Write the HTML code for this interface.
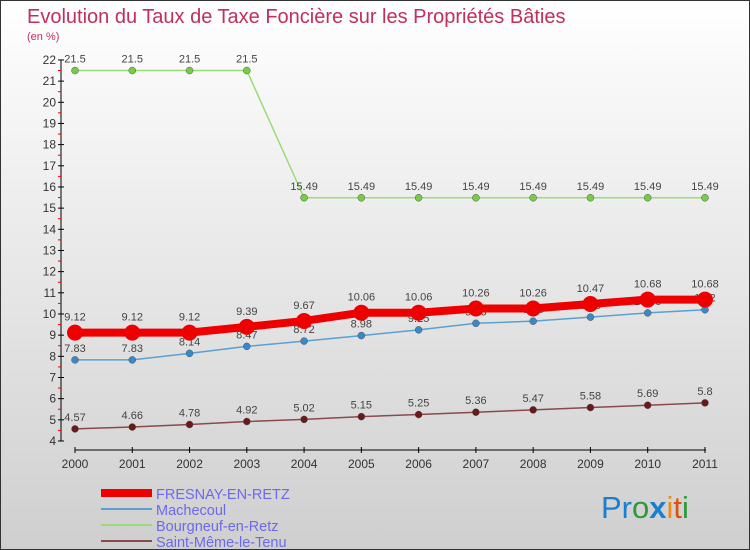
<!DOCTYPE html>
<html><head><meta charset="utf-8"><style>
html,body{margin:0;padding:0}
body{width:750px;height:550px;overflow:hidden;font-family:"Liberation Sans",sans-serif}
#wrap{position:relative;width:748px;height:548px;border:1px solid #333;background:linear-gradient(#ffffff,#cfcfcf)}
</style></head><body>
<div id="wrap">
<svg id="chart" width="748" height="548" style="position:absolute;left:0;top:0">
<text x="26" y="22" font-size="20" fill="#c0305a">Evolution du Taux de Taxe Foncière sur les Propriétés Bâties</text>
<text x="26" y="39" font-size="11" fill="#c0305a">(en %)</text>
<g id="axes"></g><g id="series"></g><g id="legend"></g>
<text x="600" y="517" font-size="31" font-family="Liberation Sans, sans-serif"><tspan fill="#1a7fd0">Pr</tspan><tspan fill="#2a9a3a">o</tspan><tspan fill="#1a7fd0" font-weight="bold">x</tspan><tspan fill="#f08a10">i</tspan><tspan fill="#e05010">t</tspan><tspan fill="#2a9a3a">i</tspan></text>
</svg>
</div>
<script>
const years=[2000,2001,2002,2003,2004,2005,2006,2007,2008,2009,2010,2011];
const fresnay=[9.12,9.12,9.12,9.39,9.67,10.06,10.06,10.26,10.26,10.47,10.68,10.68];
const machecoul=[7.83,7.83,8.14,8.47,8.72,8.98,9.25,9.56,9.66,9.85,10.05,10.2];
const bourgneuf=[21.5,21.5,21.5,21.5,15.49,15.49,15.49,15.49,15.49,15.49,15.49,15.49];
const saintMeme=[4.57,4.66,4.78,4.92,5.02,5.15,5.25,5.36,5.47,5.58,5.69,5.8];
const yTicks=[4,5,6,7,8,9,10,11,12,13,14,15,16,17,18,19,20,21,22];
const seriesNames=["FRESNAY-EN-RETZ","Machecoul","Bourgneuf-en-Retz","Saint-Même-le-Tenu"];
const NS="http://www.w3.org/2000/svg";
const X=i=>74+i*57.27, Y=v=>440-(v-4)*21.17;
function mk(tag,attrs,parent){const e=document.createElementNS(NS,tag);for(const k in attrs)e.setAttribute(k,attrs[k]);parent.appendChild(e);return e;}
const axes=document.getElementById('axes');
let e=mk('line',{x1:60,y1:Y(22),x2:60,y2:Y(4),stroke:'#000'},axes);


e=mk('line',{x1:X(0),y1:449,x2:X(11)+1,y2:449,stroke:'#000'},axes);


yTicks.forEach(v=>{
  mk('line',{x1:57,y1:Y(v),x2:63,y2:Y(v),stroke:'#000'},axes);
  if(v<22)mk('line',{x1:57,y1:Y(v+0.5),x2:60,y2:Y(v+0.5),stroke:'#e00'},axes);
  const t=mk('text',{x:55,y:Y(v)+4,'font-size':12,fill:'#333','text-anchor':'end'},axes);
  t.textContent=v;
  
  
});
years.forEach((yr,i)=>{
  mk('line',{x1:X(i),y1:446,x2:X(i),y2:452,stroke:'#000'},axes);
  const t=mk('text',{x:X(i),y:467,'font-size':12,fill:'#333','text-anchor':'middle'},axes);
  t.textContent=yr;
  
  
});
const ser=document.getElementById('series');
const cfg=[[bourgneuf,'#99dd77','#77cc44',1.5,3.5,'bourgneuf'],[saintMeme,'#8a4a4a','#6a1818',1.5,3.5,'saint-meme'],[machecoul,'#5aa0d0','#3a88c8',1.5,3.5,'machecoul'],[fresnay,'#ee0000','#ee0000',8,8,'fresnay']];
cfg.forEach(([d,lc,pc,w,r,n])=>{
  const g=mk('g',{},ser);
  
  
  const l=mk('polyline',{points:d.map((v,i)=>X(i)+','+Y(v)).join(' '),fill:'none',stroke:lc,'stroke-width':w},g);
  
  
  d.forEach((v,i)=>{
    const c=mk('circle',{cx:X(i),cy:Y(v),r:r,fill:pc,stroke:n==='fresnay'?'none':'#555','stroke-width':0.5},g);
    
    
    const t=mk('text',{x:X(i),y:Y(v)-(n==='fresnay'?12:8),'font-size':11,fill:'#444','text-anchor':'middle'},g);
    t.textContent=v;
    
    
  });
});
const lg=document.getElementById('legend');
const lcol=['#ee0000','#5aa0d0','#99dd77','#8a4a4a'],lw=[8,2,2,2];
seriesNames.forEach((nm,i)=>{
  const y=492+i*16;
  const g=mk('g',{},lg);
  
  
  mk('line',{x1:100,y1:y,x2:151,y2:y,stroke:lcol[i],'stroke-width':lw[i]},g);
  const t=mk('text',{x:155,y:y+6,'font-size':14.5,fill:'#6a6aee'},g);
  t.textContent=nm;
});
</script>
</body></html>
